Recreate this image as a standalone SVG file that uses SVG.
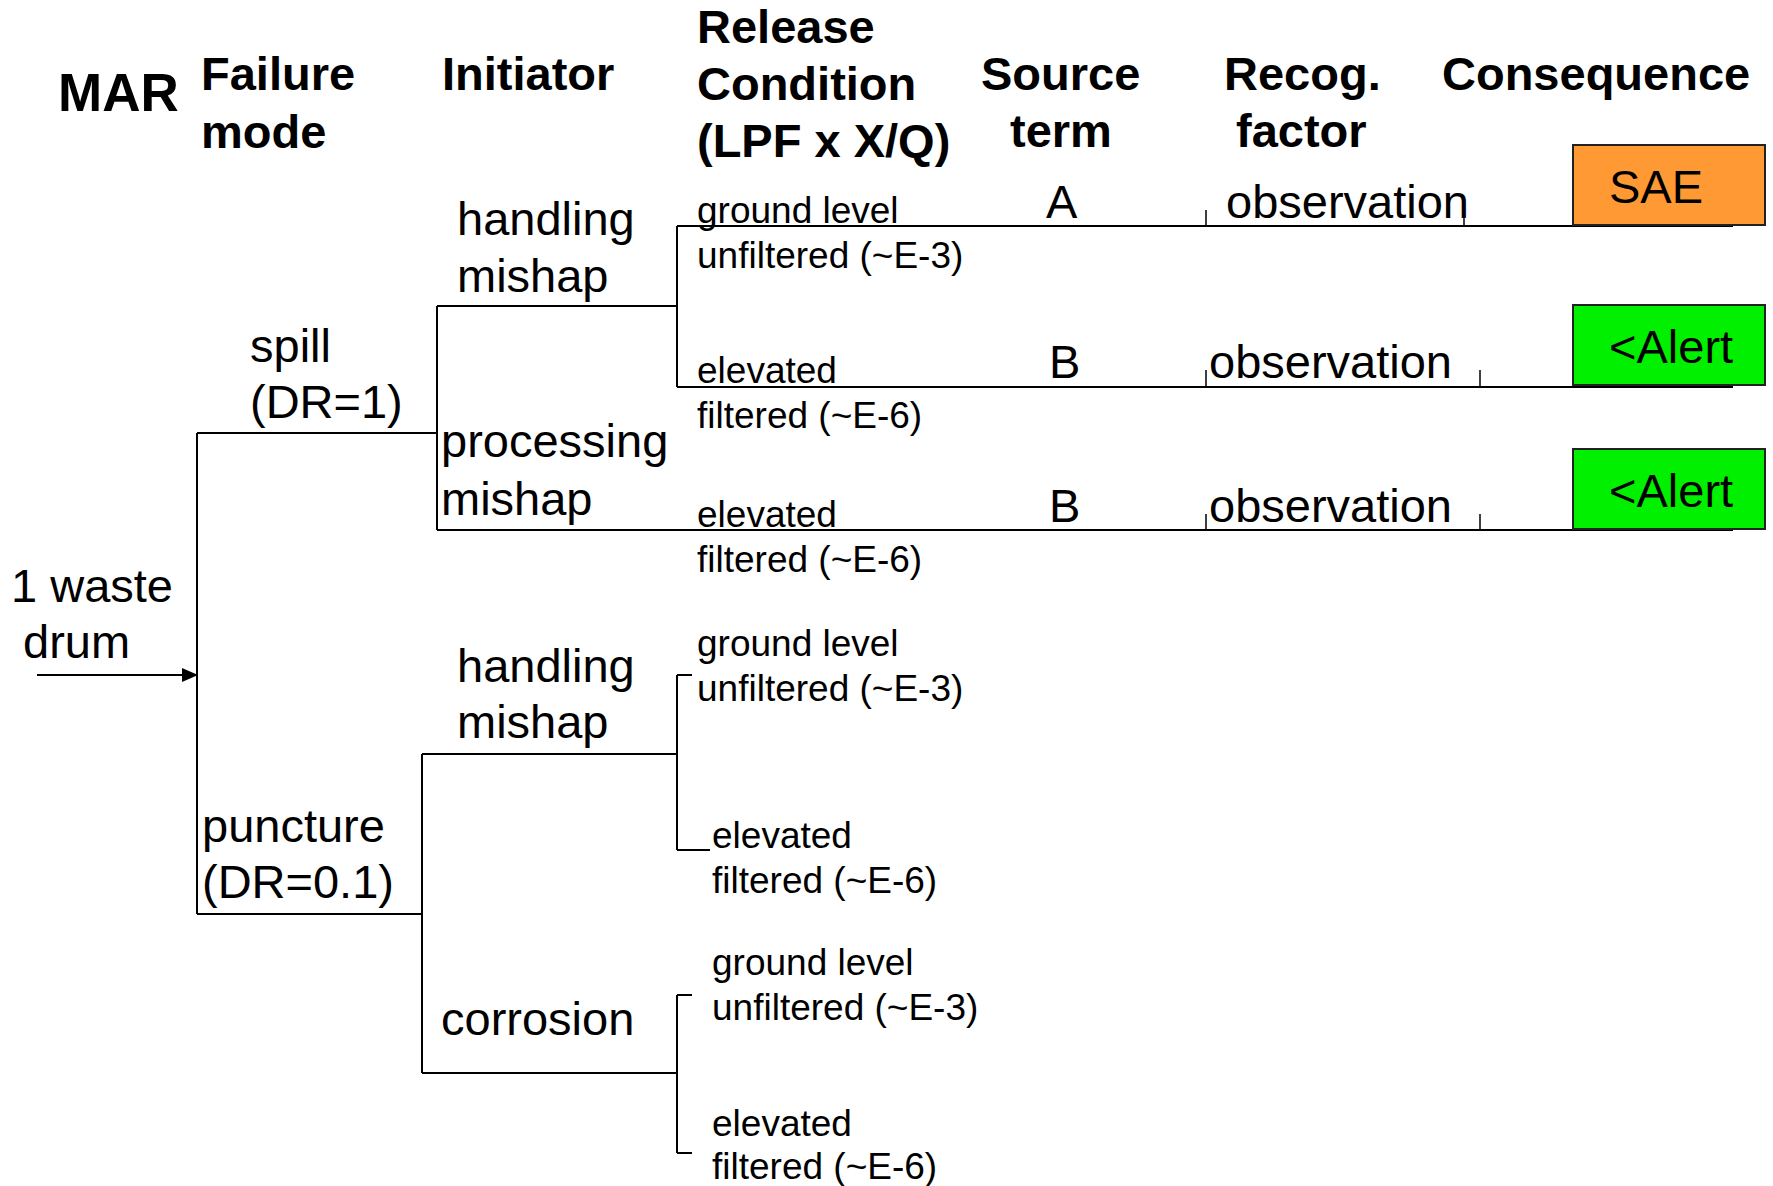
<svg xmlns="http://www.w3.org/2000/svg" width="1773" height="1186" viewBox="0 0 1773 1186">
<style>
  text { font-family: "Liberation Sans", Arial, sans-serif; fill: #000; }
  .hd { font-weight: bold; font-size: 47px; }
  .mar { font-weight: bold; font-size: 53px; }
  .lb { font-size: 47px; }
  .rc { font-size: 37px; }
  .ln { stroke: #000; stroke-width: 2; fill: none; }
  .tk { stroke: #000; stroke-width: 1.5; fill: none; }
  .sae { fill: #FF9933; stroke: #222; stroke-width: 2; }
  .alert { fill: #00F000; stroke: #222; stroke-width: 2; }
</style>
<defs>
  <marker id="arr" markerWidth="16" markerHeight="14" refX="15" refY="7" orient="auto" markerUnits="userSpaceOnUse">
    <path d="M0,0 L16,7 L0,14 Z" fill="#000"/>
  </marker>
</defs>
<rect width="1773" height="1186" fill="#fff"/>

<g id="headers">
  <text class="mar" x="58" y="111">MAR</text>
  <text class="hd" x="201" y="90">Failure</text>
  <text class="hd" x="201" y="148">mode</text>
  <text class="hd" x="442" y="90">Initiator</text>
  <text class="hd" x="697" y="43">Release</text>
  <text class="hd" x="697" y="100">Condition</text>
  <text class="hd" x="697" y="157">(LPF x X/Q)</text>
  <text class="hd" x="981" y="90">Source</text>
  <text class="hd" x="1010" y="147">term</text>
  <text class="hd" x="1224" y="90">Recog.</text>
  <text class="hd" x="1236" y="147">factor</text>
  <text class="hd" x="1442" y="90">Consequence</text>
</g>

<g id="connectors">
  <line class="ln" x1="37" y1="675" x2="197" y2="675" marker-end="url(#arr)"/>
  <path class="ln" d="M197,433 V914"/>
  <path class="ln" d="M197,433 H437"/>
  <path class="ln" d="M197,914 H422"/>
  <path class="ln" d="M437,306 V530"/>
  <path class="ln" d="M437,306 H677"/>
  <path class="ln" d="M677,226 V387"/>
  <path class="ln" d="M677,226 H1733"/>
  <path class="ln" d="M677,387 H1733"/>
  <path class="ln" d="M437,530 H1733"/>
  <path class="ln" d="M422,754 V1073"/>
  <path class="ln" d="M422,754 H677"/>
  <path class="ln" d="M677,675 V850"/>
  <path class="ln" d="M677,675 H692"/>
  <path class="ln" d="M677,850 H710"/>
  <path class="ln" d="M422,1073 H677"/>
  <path class="ln" d="M677,995 V1153"/>
  <path class="ln" d="M677,995 H692"/>
  <path class="ln" d="M677,1153 H692"/>
  <path class="tk" d="M1206,210 V226 M1464,210 V226"/>
  <path class="tk" d="M1206,370 V387 M1480,370 V387"/>
  <path class="tk" d="M1206,514 V530 M1480,514 V530"/>
</g>

<g id="mar-drum"><text class="lb" x="11" y="602">1 waste</text><text class="lb" x="23" y="658">drum</text></g>

<g id="fm-spill"><text class="lb" x="250" y="362">spill</text><text class="lb" x="250" y="418">(DR=1)</text></g>
<g id="fm-puncture"><text class="lb" x="202" y="842">puncture</text><text class="lb" x="202" y="898">(DR=0.1)</text></g>

<g id="in-handling-1"><text class="lb" x="457" y="235">handling</text><text class="lb" x="457" y="292">mishap</text></g>
<g id="in-processing"><text class="lb" x="441" y="457">processing</text><text class="lb" x="441" y="515">mishap</text></g>
<g id="in-handling-2"><text class="lb" x="457" y="682">handling</text><text class="lb" x="457" y="738">mishap</text></g>
<g id="in-corrosion"><text class="lb" x="441" y="1035">corrosion</text></g>

<g id="rc-1"><text class="rc" x="697" y="223">ground level</text><text class="rc" x="697" y="268">unfiltered (~E-3)</text></g>
<g id="rc-2"><text class="rc" x="697" y="383">elevated</text><text class="rc" x="697" y="428">filtered (~E-6)</text></g>
<g id="rc-3"><text class="rc" x="697" y="527">elevated</text><text class="rc" x="697" y="572">filtered (~E-6)</text></g>
<g id="rc-4"><text class="rc" x="697" y="656">ground level</text><text class="rc" x="697" y="701">unfiltered (~E-3)</text></g>
<g id="rc-5"><text class="rc" x="712" y="848">elevated</text><text class="rc" x="712" y="893">filtered (~E-6)</text></g>
<g id="rc-6"><text class="rc" x="712" y="975">ground level</text><text class="rc" x="712" y="1020">unfiltered (~E-3)</text></g>
<g id="rc-7"><text class="rc" x="712" y="1136">elevated</text><text class="rc" x="712" y="1179">filtered (~E-6)</text></g>

<g id="st-1"><text class="lb" x="1046" y="218">A</text></g>
<g id="st-2"><text class="lb" x="1049" y="378">B</text></g>
<g id="st-3"><text class="lb" x="1049" y="522">B</text></g>

<g id="rf-1"><text class="lb" x="1226" y="218">observation</text></g>
<g id="rf-2"><text class="lb" x="1209" y="378">observation</text></g>
<g id="rf-3"><text class="lb" x="1209" y="522">observation</text></g>

<g id="c-sae"><rect class="sae" x="1573" y="145" width="192" height="80"/><text class="lb" x="1609" y="203">SAE</text></g>
<g id="c-alert-1"><rect class="alert" x="1573" y="305" width="192" height="80"/><text class="lb" x="1609" y="363">&lt;Alert</text></g>
<g id="c-alert-2"><rect class="alert" x="1573" y="449" width="192" height="80"/><text class="lb" x="1609" y="507">&lt;Alert</text></g>
</svg>
